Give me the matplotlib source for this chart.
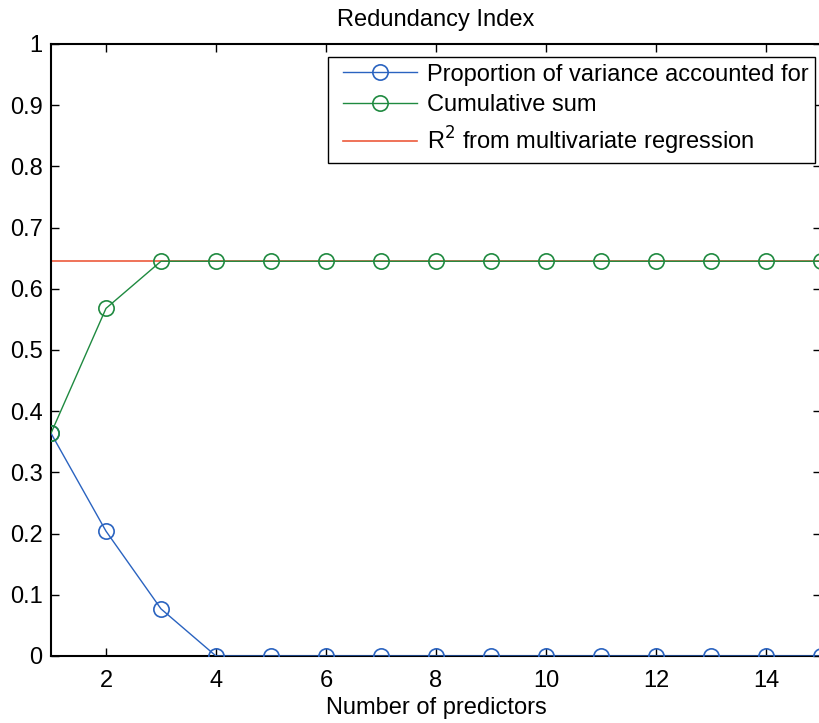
import matplotlib
matplotlib.use("Agg")
import matplotlib.pyplot as plt
from matplotlib.legend_handler import HandlerLine2D

plt.rcParams['font.family'] = ['Liberation Sans', 'DejaVu Sans']

predictors = list(range(1, 16))
proportion = [0.364, 0.204, 0.077, 0, 0, 0, 0, 0, 0, 0, 0, 0, 0, 0, 0]
cumulative = [0.364, 0.568, 0.645, 0.645, 0.645, 0.645, 0.645, 0.645,
              0.645, 0.645, 0.645, 0.645, 0.645, 0.645, 0.645]
r2_value = 0.645

labels = ["Proportion of variance accounted for", "Cumulative sum",
          "R$^2$ from multivariate regression"]
blue = "#2a63c0"
green = "#1f8a40"
red = "#ec5a3c"


class InsetLineHandler(HandlerLine2D):
    """Legend line sample that starts a little further from the frame."""

    def __init__(self, shift, **kw):
        super().__init__(**kw)
        self.shift = shift

    def create_artists(self, legend, orig_handle, xdescent, ydescent,
                       width, height, fontsize, trans):
        return super().create_artists(legend, orig_handle,
                                      xdescent - self.shift, ydescent,
                                      width - self.shift, height,
                                      fontsize, trans)


fig = plt.figure(figsize=(8.2, 7.23), dpi=100)
ax = fig.add_axes([51 / 820, 1 - 656 / 723, 770 / 820, 612 / 723])

ax.axhline(r2_value, color=red, lw=1.2, label=labels[2], zorder=2)
ax.plot(predictors, proportion, '-o', color=blue, lw=1.0, ms=11,
        mfc='none', mew=1.2, label=labels[0], zorder=3)
ax.plot(predictors, cumulative, '-o', color=green, lw=1.0, ms=11,
        mfc='none', mew=1.2, label=labels[1], zorder=3)

ax.set_xlim(1, 15)
ax.set_ylim(0, 1)
ax.set_xticks(range(2, 15, 2))
ax.set_yticks([i / 10 for i in range(11)])
ax.set_yticklabels(['0', '0.1', '0.2', '0.3', '0.4', '0.5', '0.6', '0.7',
                    '0.8', '0.9', '1'])
ax.tick_params(direction='in', length=6, width=1, top=True, right=True,
               labelsize=17)
ax.tick_params(axis='y', pad=6)
ax.tick_params(axis='x', pad=10)
for s in ax.spines.values():
    s.set_linewidth(1.5)

ax.set_title("Redundancy Index", fontsize=17, pad=13)
ax.set_xlabel("Number of predictors", fontsize=17, labelpad=4)

handles, labs = ax.get_legend_handles_labels()
order = [1, 2, 0]
shift_pt = 5.8
leg = ax.legend([handles[i] for i in order], [labs[i] for i in order],
                loc='upper right', bbox_to_anchor=(815 / 820, 1 - 57 / 723),
                bbox_transform=fig.transFigure, fontsize=17, frameon=True,
                fancybox=False, edgecolor='black', framealpha=1,
                handlelength=3.47, borderaxespad=0, borderpad=0.28,
                labelspacing=0.36, handletextpad=0.42,
                handler_map={h: InsetLineHandler(shift_pt) for h in handles})
leg.get_frame().set_linewidth(1.0)

fig.savefig("out.png", dpi=100)
